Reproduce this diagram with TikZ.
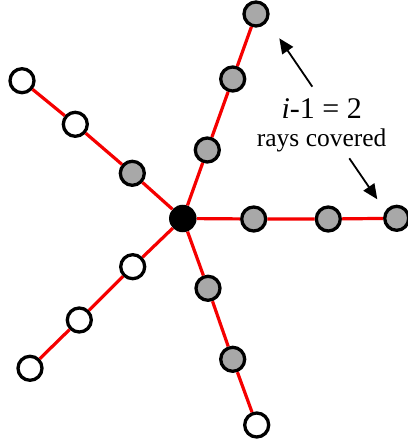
\documentclass[tikz,border=0pt]{standalone}
\usepackage{fontspec}
\setmainfont{Liberation Serif}
\usetikzlibrary{arrows.meta}
\definecolor{nodegray}{RGB}{168,168,168}
\definecolor{rayred}{RGB}{245,0,0}
\tikzset{
  vtx/.style={circle,draw=black,line width=3.3pt,minimum size=24pt,inner sep=0pt},
  gvtx/.style={vtx,fill=nodegray},
  wvtx/.style={vtx,fill=white},
  hub/.style={circle,fill=black,minimum size=27.5pt,inner sep=0pt},
  ray/.style={rayred,line width=3.2pt},
  pointer/.style={black,line width=1.8pt,-{Triangle[length=15pt,width=13pt]}},
}
\begin{document}
\begin{tikzpicture}[x=1pt,y=-1pt]
\useasboundingbox (0,0) rectangle (407,443);
\node[hub] (c) at (182.8,218.5) {};
% up-right
\node[gvtx] (a1) at (207.3,150) {};
\node[gvtx] (a2) at (232.7,79) {};
\node[gvtx] (a3) at (256,14) {};
% right
\node[gvtx] (b1) at (253.7,219) {};
\node[gvtx] (b2) at (328.3,219) {};
\node[gvtx] (b3) at (396.7,218.3) {};
% down
\node[gvtx] (d1) at (208,288.3) {};
\node[gvtx] (d2) at (232.7,359.3) {};
\node[wvtx] (d3) at (256.7,425) {};
% lower-left
\node[wvtx] (e1) at (132.7,266.7) {};
\node[wvtx] (e2) at (79.3,320) {};
\node[wvtx] (e3) at (30,368.3) {};
% upper-left
\node[gvtx] (f1) at (132.3,173.3) {};
\node[wvtx] (f2) at (75.3,124.3) {};
\node[wvtx] (f3) at (22,80.7) {};
\foreach \r in {a,b,d,e,f}{
  \draw[ray] (c) -- (\r1) -- (\r2) -- (\r3);
}
% labels
\node[font=\fontsize{30}{32}\selectfont,anchor=base] (lab1) at (321.7,119) {\textit{i}-1 = 2};
\node[font=\fontsize{25.5}{28}\selectfont,anchor=base] (lab2) at (321.7,146.5) {rays covered};
\coordinate (p1s) at (312.3,86.7);
\coordinate (p2s) at (349.3,158.3);
\coordinate (p1e) at (279.3,38.3);
\coordinate (p2e) at (377.3,199.3);
\draw[pointer] (p1s) -- (p1e);
\draw[pointer] (p2s) -- (p2e);
\end{tikzpicture}
\end{document}
